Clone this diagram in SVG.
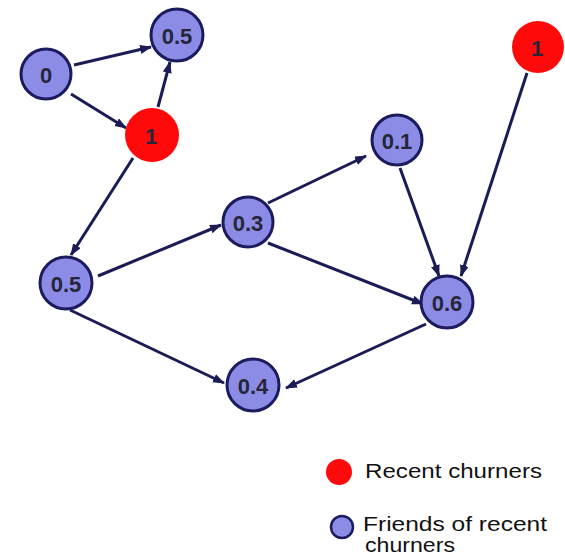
<svg xmlns="http://www.w3.org/2000/svg" width="565" height="559" viewBox="0 0 565 559">
<defs>
<style>
.edge{stroke:#1b1b55;stroke-width:3;fill:none;marker-end:url(#arr)}
.friend{fill:#8c8ce6;stroke:#1b1b5e;stroke-width:3}
.churn{fill:#ff0a0a;stroke:none}
.lbl{font-family:"Liberation Sans",Arial,sans-serif;font-size:22px;font-weight:bold;fill:#26263a;text-anchor:middle;dominant-baseline:central}
.leg{font-family:"Liberation Sans",Arial,sans-serif;font-size:21px;fill:#111}
</style>
<marker id="arr" markerUnits="userSpaceOnUse" markerWidth="12" markerHeight="10" refX="11" refY="4.5" orient="auto">
<path d="M0,0 L12,4.5 L0,9 z" fill="#1b1b55"/>
</marker>
</defs>
<rect width="565" height="559" fill="#fff"/>
<g id="connectors">
<line class="edge" x1="74" y1="65" x2="151" y2="47"/>
<line class="edge" x1="71" y1="94" x2="126" y2="128"/>
<line class="edge" x1="158" y1="107" x2="170" y2="62"/>
<line class="edge" x1="133" y1="158" x2="71" y2="255"/>
<line class="edge" x1="98" y1="276" x2="221" y2="225"/>
<line class="edge" x1="70" y1="310" x2="224" y2="383"/>
<line class="edge" x1="268" y1="203" x2="366" y2="156"/>
<line class="edge" x1="268" y1="243" x2="423" y2="304"/>
<line class="edge" x1="400" y1="168" x2="439" y2="276"/>
<line class="edge" x1="527" y1="73" x2="461" y2="276"/>
<line class="edge" x1="426" y1="324" x2="286" y2="388"/>
</g>
<g id="n0"><circle class="friend" cx="46" cy="74" r="25"/><text class="lbl" x="46" y="75">0</text></g>
<g id="n05top"><circle class="friend" cx="177" cy="35" r="26"/><text class="lbl" x="177" y="36">0.5</text></g>
<g id="n1left"><circle class="churn" cx="152" cy="135" r="27"/><text class="lbl" x="151" y="136">1</text></g>
<g id="n1right"><circle class="churn" cx="538" cy="47" r="26"/><text class="lbl" x="537" y="48">1</text></g>
<g id="n01"><circle class="friend" cx="397" cy="140" r="25"/><text class="lbl" x="397" y="141">0.1</text></g>
<g id="n03"><circle class="friend" cx="248" cy="222" r="25"/><text class="lbl" x="248" y="223">0.3</text></g>
<g id="n05left"><circle class="friend" cx="66" cy="283" r="26"/><text class="lbl" x="66" y="284">0.5</text></g>
<g id="n06"><circle class="friend" cx="447" cy="302" r="26"/><text class="lbl" x="447" y="303">0.6</text></g>
<g id="n04"><circle class="friend" cx="253" cy="385" r="26"/><text class="lbl" x="253" y="386">0.4</text></g>
<g id="legend">
<circle class="churn" cx="339" cy="472" r="13"/>
<text class="leg" x="365" y="478" textLength="177" lengthAdjust="spacingAndGlyphs">Recent churners</text>
<circle class="friend" cx="342" cy="527" r="11" style="stroke-width:2.5"/>
<text class="leg" x="363" y="531" textLength="184" lengthAdjust="spacingAndGlyphs">Friends of recent</text>
<text class="leg" x="365" y="552" textLength="90" lengthAdjust="spacingAndGlyphs">churners</text>
</g>
</svg>
